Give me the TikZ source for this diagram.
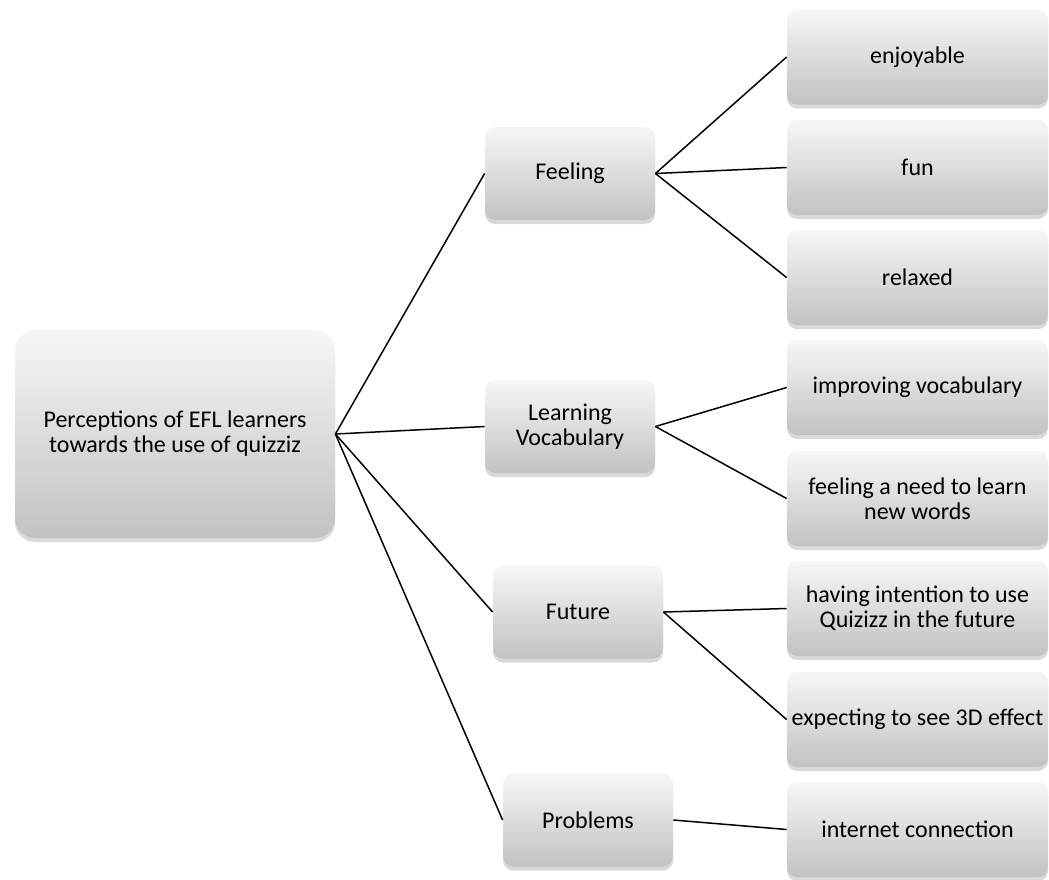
\documentclass[tikz,border=0pt]{standalone}
\usepackage{fontspec}
\setmainfont{Carlito}
\usepackage{xcolor}
\usetikzlibrary{shadows}
\definecolor{boxtop}{RGB}{247,247,247}
\definecolor{boxbottom}{RGB}{194,194,194}

\begin{document}
\begin{tikzpicture}[x=0.5pt, y=-0.5pt,
    box/.style={rounded corners=5pt, top color=boxtop, bottom color=boxbottom,
      drop shadow={shadow xshift=0pt, shadow yshift=-2pt, opacity=0.3},
      align=center, inner sep=2pt, font=\fontsize{12}{12.5}\selectfont},
    rootbox/.style={box, rounded corners=10pt, minimum width=160pt, minimum height=104pt},
    topic/.style={box, minimum width=85pt, minimum height=46.5pt},
    item/.style={box, minimum width=130.5pt, minimum height=47.5pt},
    link/.style={line width=0.75pt}]
      \useasboundingbox (0,0) rectangle (1049,879);
      \node[rootbox] (root) at (175,434) {Perceptions of EFL learners\\towards the use of quizziz};
      \node[topic] (feeling)  at (570,173.5) {Feeling};
      \node[topic] (vocab)    at (570,426.5) {Learning\\Vocabulary};
      \node[topic] (future)   at (578,612)   {Future};
      \node[topic] (problems) at (588,820)   {Problems};
      \node[item] (enjoyable)  at (917.5,57)    {enjoyable};
      \node[item] (fun)        at (917.5,167.5) {fun};
      \node[item] (relaxed)    at (917.5,277.5) {relaxed};
      \node[item] (improving)  at (917.5,387.5) {improving vocabulary};
      \node[item] (newwords)   at (917.5,498.5) {feeling a need to learn\\new words};
      \node[item] (intention)  at (917.5,608.5) {having intention to use\\Quizizz in the future};
      \node[item] (effect)     at (917.5,719.5) {expecting to see 3D effect};
      \node[item] (internet)   at (917.5,829.5) {internet connection};
      %\draw[link] (root.east) -- (vocab.west);
      \draw[link] (root.east) -- (feeling.west);
      \draw[link] (root.east) -- (vocab.west);
      \draw[link] (root.east) -- (future.west);
      \draw[link] (root.east) -- (problems.west);
      \draw[link] (feeling.east) -- (enjoyable.west);
      \draw[link] (feeling.east) -- (fun.west);
      \draw[link] (feeling.east) -- (relaxed.west);
      \draw[link] (vocab.east) -- (improving.west);
      \draw[link] (vocab.east) -- (newwords.west);
      \draw[link] (future.east) -- (intention.west);
      \draw[link] (future.east) -- (effect.west);
      \draw[link] (problems.east) -- (internet.west);
    \end{tikzpicture}
\end{document}
